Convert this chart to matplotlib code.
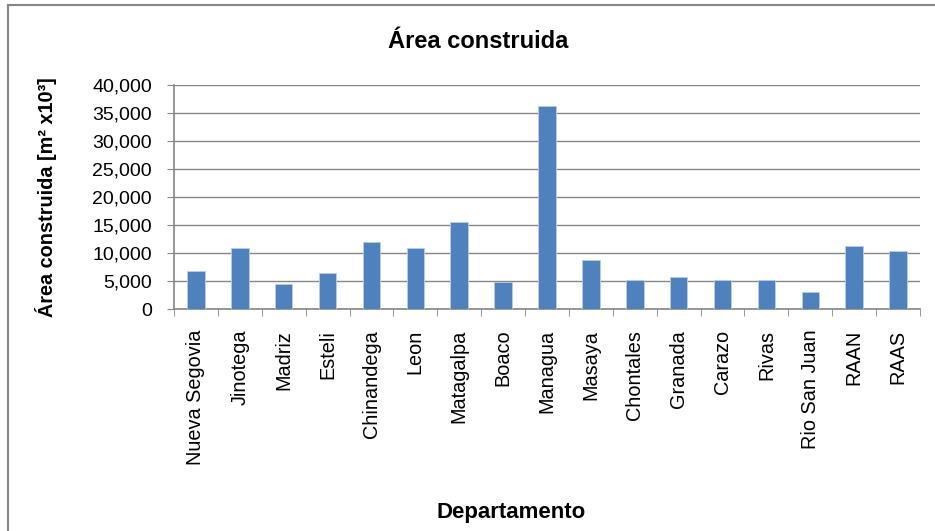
import matplotlib
matplotlib.use('Agg')
import matplotlib.pyplot as plt
import matplotlib as mpl
from matplotlib.lines import Line2D
from matplotlib.ticker import FuncFormatter, FixedLocator
import numpy as np

mpl.rcParams['font.family'] = ['Liberation Sans', 'DejaVu Sans']

departamentos = ['Nueva Segovia', 'Jinotega', 'Madriz', 'Esteli', 'Chinandega', 'Leon',
                 'Matagalpa', 'Boaco', 'Managua', 'Masaya', 'Chontales', 'Granada',
                 'Carazo', 'Rivas', 'Rio San Juan', 'RAAN', 'RAAS']
area = [6700, 10900, 4400, 6400, 11900, 10900, 15500, 4800, 36200, 8700,
        5100, 5700, 5100, 5100, 3100, 11300, 10300]
yticks = [0, 5000, 10000, 15000, 20000, 25000, 30000, 35000, 40000]

fig = plt.figure(figsize=(9.35, 5.31), dpi=100)
ax = fig.add_axes([174/935, 1 - 309/531, 746/935, 224.5/531])

x = np.arange(len(departamentos))
ax.bar(x, area, width=0.4, color='#4F81BD', edgecolor='#B9CDE5', linewidth=0.6, zorder=3)

ax.set_xlim(-0.5, len(departamentos) - 0.5)
ax.set_ylim(0, 40000)
ax.set_yticks(yticks)
ax.yaxis.set_major_formatter(FuncFormatter(lambda v, p: f'{int(v):,}'))
ax.grid(axis='y', color='#868686', linewidth=1.0, zorder=0)

ax.set_xticks(x)
ax.set_xticklabels(departamentos, rotation=90, fontsize=14.3)
ax.tick_params(axis='x', length=0, pad=15)
ax.xaxis.set_minor_locator(FixedLocator(np.arange(-0.5, len(departamentos), 1)))
ax.tick_params(axis='x', which='minor', length=5, color='#868686', direction='out')
ax.tick_params(axis='y', labelsize=14, length=5, color='#868686', pad=11)

for s in ['top', 'right']:
    ax.spines[s].set_visible(False)
for s in ['left', 'bottom']:
    ax.spines[s].set_color('#868686')
    ax.spines[s].set_linewidth(1.2)

ax.set_ylabel('Área construida [m² x10³]', fontsize=14.3, fontweight='bold')
ax.yaxis.set_label_coords(-0.157, 0.5)
ax.set_xlabel('Departamento', fontsize=16, fontweight='bold')
ax.xaxis.set_label_coords(0.452, -0.86)

fig.text(478/935, 1 - 42/531, 'Área construida', fontsize=17, fontweight='bold',
         ha='center', va='center')

# chart frame: only top and left edges are visible in the crop
fig.lines.append(Line2D([8/935, 1.0], [1 - 5/531, 1 - 5/531], transform=fig.transFigure,
                        color='#868686', linewidth=1.5))
fig.lines.append(Line2D([8/935, 8/935], [0.0, 1 - 5/531], transform=fig.transFigure,
                        color='#868686', linewidth=1.5))

plt.savefig('out.png', dpi=100)
